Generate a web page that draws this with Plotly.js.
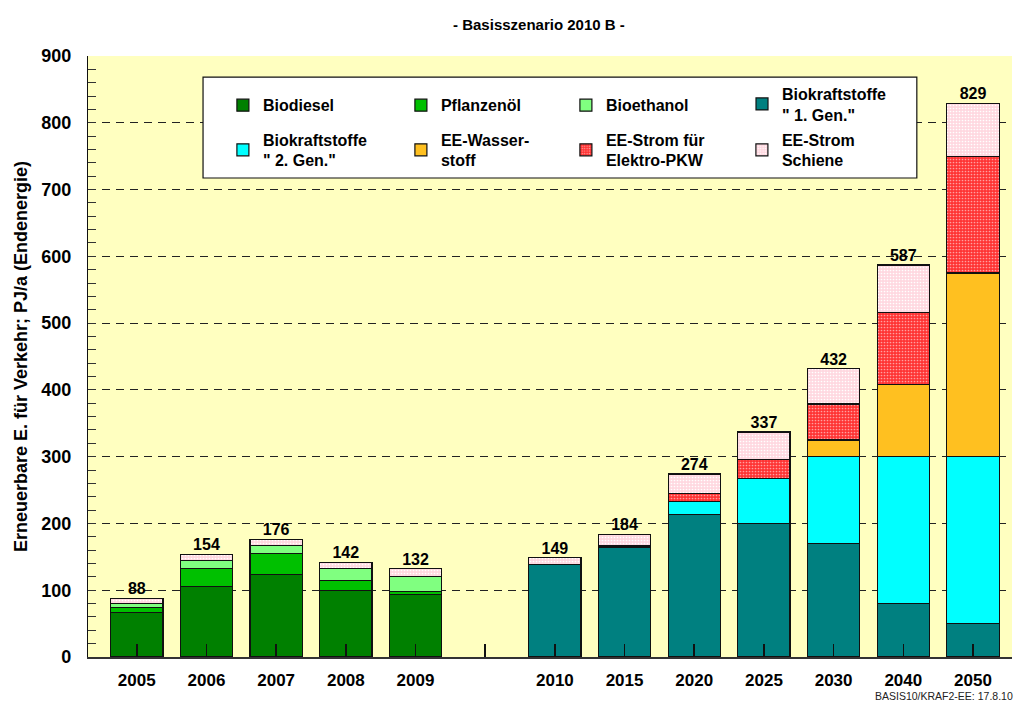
<!DOCTYPE html>
<html>
<head>
<meta charset="utf-8">
<script src="https://cdn.plot.ly/plotly-3.0.1.min.js"></script>
<style>html,body{margin:0;padding:0;background:#fff;}#chart{width:1016px;height:701px;}</style>
</head>
<body>
<div id="chart"></div>
<script>
// ---- data ----
const years = ['2005','2006','2007','2008','2009','2010','2015','2020','2025','2030','2040','2050'];
const gapSlot = ' ';
const biodiesel   = [67, 106, 124, 100, 94, null, null, null, null, null, null, null];
const pflanzenoel = [7, 27, 31, 15, 4, null, null, null, null, null, null, null];
const bioethanol  = [6, 12, 12, 17, 23, null, null, null, null, null, null, null];
const gen1        = [null, null, null, null, null, 138, 164, 213, 200, 170, 80, 50];
const gen2        = [null, null, null, null, null, null, 1, 20, 67, 130, 220, 250];
const wasserstoff = [null, null, null, null, null, null, null, null, null, 25, 108, 275];
const stromPkw    = [null, null, null, null, null, null, 2, 12, 29, 54, 108, 174];
const schiene     = [8, 9, 9, 10, 11, 11, 17, 29, 41, 53, 71, 80];
const totals      = [88, 154, 176, 142, 132, 149, 184, 274, 337, 432, 587, 829];
const seriesNames = ['Biodiesel', 'Pflanzenöl', 'Bioethanol', 'Biokraftstoffe<br>" 1. Gen."',
                     'Biokraftstoffe<br>" 2. Gen."', 'EE-Wasser-<br>stoff', 'EE-Strom für<br>Elektro-PKW', 'EE-Strom<br>Schiene'];
const yTickVals = [0, 100, 200, 300, 400, 500, 600, 700, 800, 900];

// ---- styling ----
const FONT = 'Liberation Sans, Arial, sans-serif';
const slots = years.slice(0, 5).concat([gapSlot], years.slice(5));
const seriesData = [biodiesel, pflanzenoel, bioethanol, gen1, gen2, wasserstoff, stromPkw, schiene];
const colors = ['#008000', '#00C000', '#80FF80', '#008080', '#00FFFF', '#FFC020', '#FF3030', '#FFDCE2'];
const patterns = [null, null, null, null, null, null,
  {shape: '.', bgcolor: '#FF3333', fgcolor: '#FFA0A0', size: 3, solidity: 0.25},
  {shape: '.', bgcolor: '#FFD8E0', fgcolor: '#FFFFFF', size: 3, solidity: 0.25}];
const legendWidths = [133, 120, 131, 130, 133, 120, 131, 130];
const legendIds = ['legend', 'legend', 'legend', 'legend3', 'legend2', 'legend2', 'legend2', 'legend2'];

const traces = seriesData.map((vals, i) => {
  const marker = {color: colors[i], line: {color: '#111', width: 1.2}};
  if (patterns[i]) marker.pattern = patterns[i];
  return {
    type: 'bar', x: years, y: vals, name: seriesNames[i], marker: marker,
    legend: legendIds[i], legendwidth: legendWidths[i],
    hoverinfo: 'skip'
  };
});
traces.push({
  type: 'scatter', mode: 'text', x: years, y: totals, text: totals.map(String),
  textposition: 'top center', cliponaxis: false, showlegend: false, hoverinfo: 'skip',
  textfont: {family: FONT, size: 16, color: '#000', weight: 'bold'}
});

const legendBase = {
  orientation: 'h', xanchor: 'left', yanchor: 'middle', bgcolor: 'rgba(0,0,0,0)', borderwidth: 0,
  font: {family: FONT, size: 16, color: '#000', weight: 'bold'}, traceorder: 'normal', valign: 'middle',
  itemclick: false, itemdoubleclick: false
};

const layout = {
  width: 1016, height: 701,
  margin: {l: 88, r: 4, t: 56, b: 44},
  paper_bgcolor: '#FFFFFF', plot_bgcolor: '#FFFFC0',
  barmode: 'stack', bargap: 0.25,
  showlegend: true,
  title: {text: '- Basisszenario 2010 B -', xref: 'paper', x: 0.488, xanchor: 'center',
          yref: 'container', y: 0.965, yanchor: 'middle',
          font: {family: FONT, size: 15, color: '#000', weight: 'bold'}},
  xaxis: {
    type: 'category', categoryorder: 'array', categoryarray: slots, range: [-0.70, 12.56],
    showline: true, linecolor: '#333', linewidth: 2, ticks: 'inside', ticklen: 13, tickcolor: '#111', tickwidth: 1.5,
    tickfont: {family: FONT, size: 17, color: '#000', weight: 'bold'}, ticklabelstandoff: 7,
    showgrid: false, zeroline: false, fixedrange: true
  },
  yaxis: {
    range: [0, 900], tickvals: yTickVals, showline: true, linecolor: '#111', linewidth: 1.2,
    ticks: 'inside', ticklen: 8, tickcolor: '#333',
    minor: {dtick: 20, ticks: 'inside', ticklen: 8, tickcolor: '#333', showgrid: false},
    showgrid: true, gridcolor: '#222', gridwidth: 1, griddash: '8px,6px', zeroline: false,
    tickfont: {family: FONT, size: 18, color: '#000', weight: 'bold'}, ticklabelstandoff: 12,
    title: {text: 'Erneuerbare E. für Verkehr; PJ/a (Endenergie)', standoff: 8,
            font: {family: FONT, size: 18, color: '#000', weight: 'bold'}},
    fixedrange: true
  },
  legend: Object.assign({x: 0.146, y: 0.918}, legendBase),
  legend3: Object.assign({x: 0.7078, y: 0.920}, legendBase),
  legend2: Object.assign({x: 0.146, y: 0.8436}, legendBase),
  shapes: [{type: 'rect', xref: 'paper', yref: 'paper', x0: 0.1245, x1: 0.897, y0: 0.797, y1: 0.965,
            fillcolor: '#FFFFFF', line: {color: '#111', width: 1.2}, layer: 'above'}],
  annotations: [{text: 'BASIS10/KRAF2-EE: 17.8.10', xref: 'paper', yref: 'paper', x: 1.0032, y: -0.0647,
                 xanchor: 'right', yanchor: 'middle', showarrow: false,
                 font: {family: FONT, size: 10.5, color: '#222'}}]
};

Plotly.newPlot('chart', traces, layout, {staticPlot: true, displayModeBar: false});
</script>
</body>
</html>
